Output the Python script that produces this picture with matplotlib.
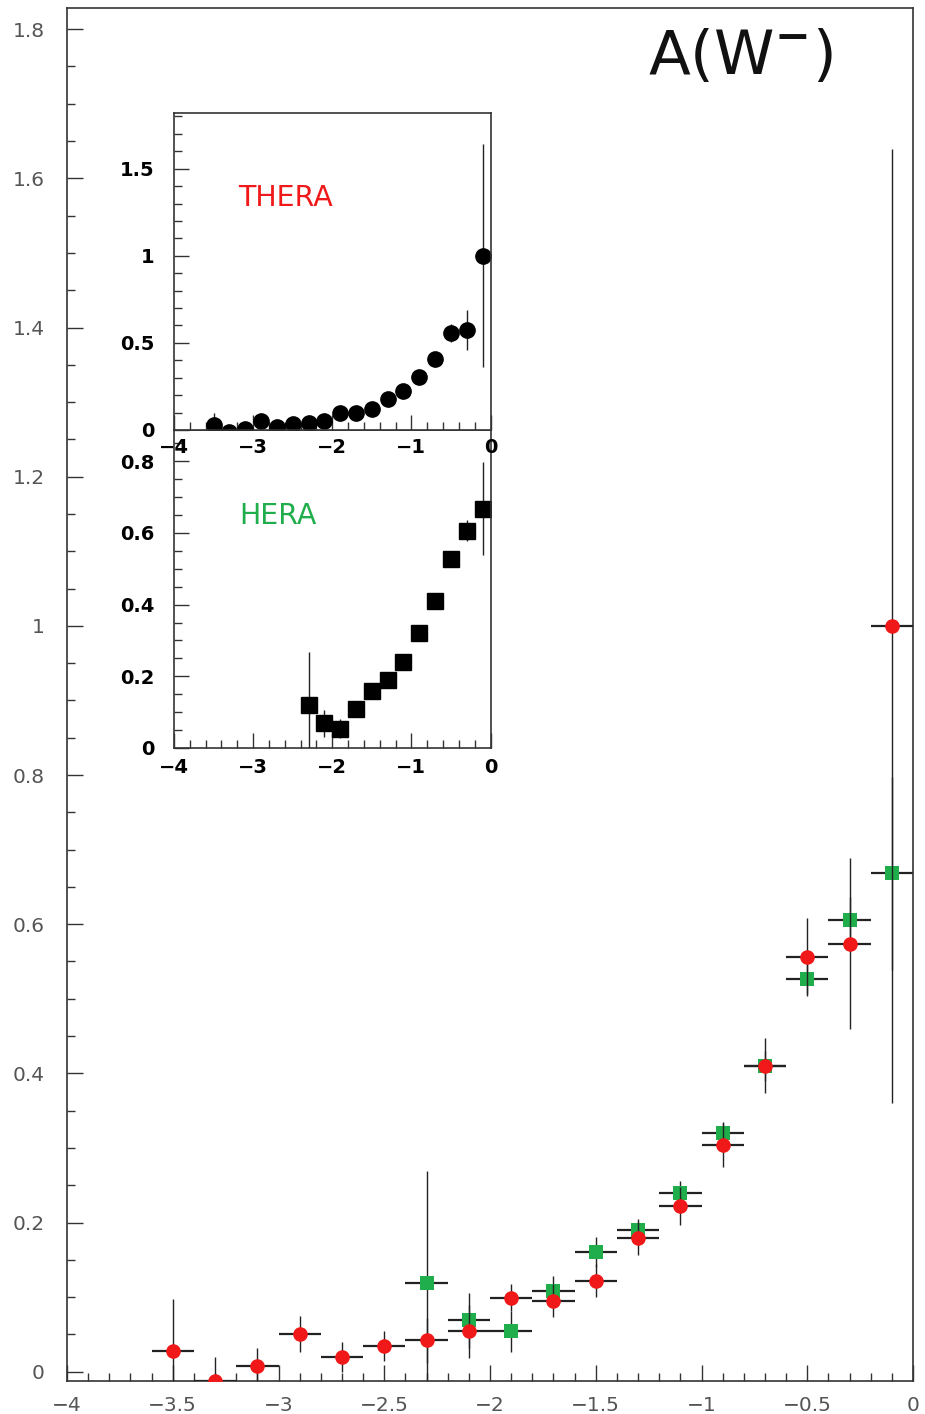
import matplotlib
matplotlib.use("Agg")
import matplotlib.pyplot as plt
from matplotlib.ticker import MultipleLocator, FuncFormatter

# ---------------- data ----------------
thera_x = [-3.5, -3.3, -3.1, -2.9, -2.7, -2.5, -2.3, -2.1, -1.9,
           -1.7, -1.5, -1.3, -1.1, -0.9, -0.7, -0.5, -0.3, -0.1]
thera_y = [0.028, -0.013, 0.007, 0.050, 0.020, 0.034, 0.042, 0.054, 0.099,
           0.095, 0.122, 0.179, 0.222, 0.304, 0.410, 0.556, 0.574, 1.000]
thera_err = [0.070, 0.033, 0.025, 0.024, 0.020, 0.020, 0.030, 0.035, 0.018,
             0.022, 0.022, 0.022, 0.025, 0.030, 0.037, 0.052, 0.115, 0.640]

hera_x = [-2.3, -2.1, -1.9, -1.7, -1.5, -1.3, -1.1, -0.9, -0.7, -0.5, -0.3, -0.1]
hera_y = [0.119, 0.069, 0.054, 0.108, 0.160, 0.190, 0.239, 0.320, 0.410, 0.526, 0.606, 0.668]
hera_err = [0.150, 0.037, 0.027, 0.020, 0.020, 0.015, 0.017, 0.015, 0.020, 0.020, 0.030, 0.130]

bin_half_width = 0.1

RED = "#f01818"
GREEN = "#1fae4b"
W, H = 925, 1414


def rect(left, top, right, bottom):
    return [left / W, 1 - bottom / H, (right - left) / W, (bottom - top) / H]


def fmt(v, pos):
    s = ("%g" % round(v, 3))
    return s.replace("-", "\u2212")


fig = plt.figure(figsize=(W / 100, H / 100), dpi=100)
fig.patch.set_facecolor("white")

# ---------------- main axes ----------------
ax = fig.add_axes(rect(67, 8, 913, 1381))
ax.set_xlim(-4, 0)
ax.set_ylim(-0.0125, 1.8284)
for sp in ax.spines.values():
    sp.set_color("#333333")
    sp.set_linewidth(1.2)
ax.xaxis.set_major_locator(MultipleLocator(0.5))
ax.xaxis.set_minor_locator(MultipleLocator(0.1))
ax.yaxis.set_major_locator(MultipleLocator(0.2))
ax.yaxis.set_minor_locator(MultipleLocator(0.05))
ax.xaxis.set_major_formatter(FuncFormatter(fmt))
ax.yaxis.set_major_formatter(FuncFormatter(fmt))
ax.tick_params(which="both", direction="in", top=False, right=False,
               color="#333333", width=1.0)
ax.tick_params(which="major", length=11.5)
ax.tick_params(which="minor", length=5.5)
ax.tick_params(axis="y", which="major", pad=16, labelsize=14.5, labelcolor="#555555")
ax.tick_params(axis="x", which="major", pad=11, labelsize=14.5, labelcolor="#555555")

# HERA (green squares) first, THERA on top
ax.errorbar(hera_x, hera_y, xerr=bin_half_width, fmt="none", ecolor="#222222",
            elinewidth=1.6, capsize=0, zorder=2)
ax.errorbar(hera_x, hera_y, yerr=hera_err, fmt="none", ecolor="#222222",
            elinewidth=1.0, capsize=0, zorder=2)
ax.plot(hera_x, hera_y, "s", color=GREEN, markersize=10, markeredgewidth=0, zorder=3)

ax.errorbar(thera_x, thera_y, xerr=bin_half_width, fmt="none", ecolor="#222222",
            elinewidth=1.6, capsize=0, zorder=4)
ax.errorbar(thera_x, thera_y, yerr=thera_err, fmt="none", ecolor="#222222",
            elinewidth=1.0, capsize=0, zorder=4)
ax.plot(thera_x, thera_y, "o", color=RED, markersize=10.5, markeredgewidth=0, zorder=5)

fig.text(740 / W, 1 - 58 / H, r"A(W$^{\mathbf{-}}$)", fontsize=44,
         ha="center", va="center", color="#111111")

# ---------------- inset: HERA ----------------
a2 = fig.add_axes(rect(174, 430, 490.5, 748))
a2.set_xlim(-4, 0)
a2.set_ylim(0, 0.887)
a2.errorbar(hera_x, hera_y, yerr=hera_err, fmt="s", color="black",
            markersize=11, ecolor="#222222", elinewidth=1.0, capsize=0)

# ---------------- inset: THERA ----------------
a1 = fig.add_axes(rect(174, 113, 490.5, 430))
a1.set_xlim(-4, 0)
a1.set_ylim(0, 1.82)
a1.errorbar(thera_x, thera_y, yerr=thera_err, fmt="o", color="black",
            markersize=11, ecolor="#222222", elinewidth=1.0, capsize=0)
a1.set_zorder(5)
a2.set_zorder(4)

for a, ymaj, ymin, xpad in ((a1, 0.5, 0.1, 6), (a2, 0.2, 0.05, 7)):
    a.set_facecolor("white")
    for sp in a.spines.values():
        sp.set_color("#333333")
        sp.set_linewidth(1.2)
    a.xaxis.set_major_locator(MultipleLocator(1))
    a.xaxis.set_minor_locator(MultipleLocator(0.2))
    a.yaxis.set_major_locator(MultipleLocator(ymaj))
    a.yaxis.set_minor_locator(MultipleLocator(ymin))
    a.xaxis.set_major_formatter(FuncFormatter(fmt))
    a.yaxis.set_major_formatter(FuncFormatter(fmt))
    a.tick_params(which="both", direction="in", top=False, right=False,
                  color="#333333", width=1.0)
    a.tick_params(which="major", length=11)
    a.tick_params(which="minor", length=5.5)
    a.tick_params(axis="y", which="major", pad=14, labelsize=14)
    a.tick_params(axis="x", which="major", pad=xpad, labelsize=14)
    for lab in a.get_xticklabels() + a.get_yticklabels():
        lab.set_fontweight("bold")

fig.text(285 / W, 1 - 198 / H, "THERA", color=RED, fontsize=20.5,
         ha="center", va="center", zorder=10)
fig.text(278 / W, 1 - 516 / H, "HERA", color=GREEN, fontsize=20.5,
         ha="center", va="center", zorder=10)

fig.savefig("out.png", dpi=100, facecolor="white")
